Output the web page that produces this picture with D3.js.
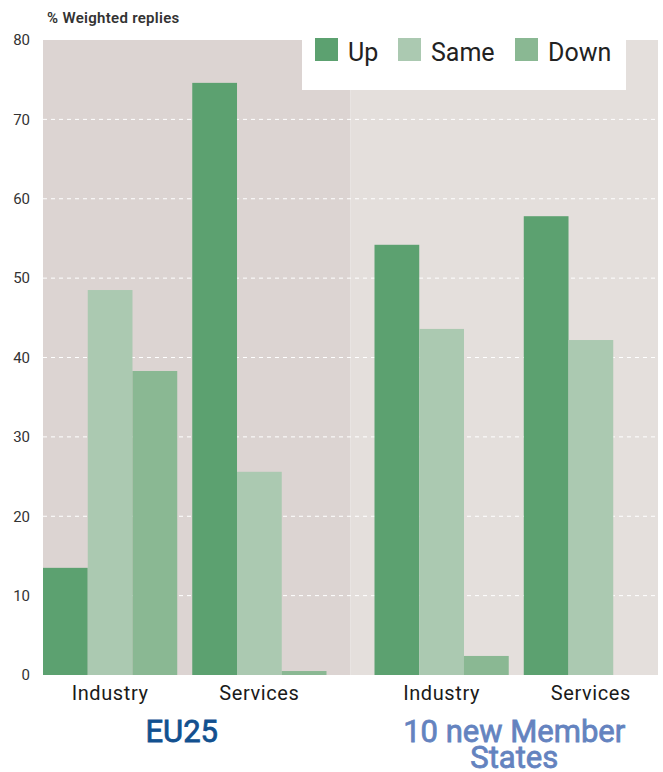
<!DOCTYPE html>
<html>
<head>
<meta charset="utf-8">
<script src="https://cdn.jsdelivr.net/npm/d3@7"></script>
<style>
  body { margin: 0; background: #fff; }
  svg { display: block; font-family: Roboto, "DejaVu Sans", sans-serif; }
</style>
</head>
<body>
<svg id="chart" width="663" height="772"></svg>
<script>
// Expectations by region and sector, % of weighted replies
const regions = ["EU25", "10 new Member States"];
const sectors = ["Industry", "Services"];
const series = ["Up", "Same", "Down"];
const upValues   = [13.5, 74.6, 54.2, 57.8];
const sameValues = [48.5, 25.6, 43.6, 42.2];
const downValues = [38.3, 0.5, 2.4, 0.0];
const yTicks = [0, 10, 20, 30, 40, 50, 60, 70, 80];

const colors = { Up: "#5ca170", Same: "#abc9b1", Down: "#8ab893" };
const panelFill = ["#dcd4d2", "#e4dfdc"];
const regionColor = ["#12508f", "#6483bf"];

// rows: one per region × sector
const rows = [];
regions.forEach((r, ri) => sectors.forEach((s, si) => {
  const k = ri * sectors.length + si;
  rows.push({ region: r, ri, sector: s, Up: upValues[k], Same: sameValues[k], Down: downValues[k] });
}));

const svg = d3.select("#chart");
const plotLeft = 43, plotRight = 658, plotTop = 40, plotBottom = 675;

const y = d3.scaleLinear().domain([0, 80]).range([plotBottom, plotTop]);
const xPanel = d3.scaleBand().domain(regions).range([plotLeft, plotRight]).padding(0);
const inset = 24;
const xSector = ri => d3.scaleBand().domain(sectors)
  .range(ri === 0 ? [0, xPanel.bandwidth() - inset] : [inset, xPanel.bandwidth()])
  .paddingInner(0.1007).paddingOuter(0);
const xSeries = d3.scaleBand().domain(series).range([0, xSector(0).bandwidth()]).padding(0);

// panel backgrounds
svg.append("g").selectAll("rect").data(regions).join("rect")
  .attr("x", d => xPanel(d)).attr("y", y(80))
  .attr("width", xPanel.bandwidth()).attr("height", y(0) - y(80))
  .attr("fill", (d, i) => panelFill[i]);

// dashed gridlines
svg.append("g").selectAll("line").data(yTicks.filter(t => t > 0 && t < 80)).join("line")
  .attr("x1", plotLeft).attr("x2", plotRight)
  .attr("y1", d => y(d)).attr("y2", d => y(d))
  .attr("stroke", "#fff").attr("stroke-width", 1).attr("stroke-dasharray", "4,4");

// bars
const groups = svg.append("g").selectAll("g").data(rows).join("g")
  .attr("transform", d => `translate(${xPanel(d.region) + xSector(d.ri)(d.sector)},0)`);
groups.selectAll("rect").data(d => series.map(k => ({ key: k, value: d[k] }))).join("rect")
  .attr("x", d => xSeries(d.key))
  .attr("y", d => y(d.value))
  .attr("width", xSeries.bandwidth())
  .attr("height", d => y(0) - y(d.value))
  .attr("fill", d => colors[d.key]);

// y axis labels
const yAxis = d3.axisLeft(y).tickValues(yTicks).tickSize(0).tickPadding(13);
const yg = svg.append("g").attr("transform", `translate(${plotLeft},0)`).call(yAxis);
yg.select(".domain").remove();
yg.selectAll("text").attr("font-size", 15).attr("fill", "#333")
  .style("font-family", "Roboto, sans-serif");

svg.append("text").attr("x", 47).attr("y", 23)
  .attr("font-size", 15).attr("font-weight", 600).attr("letter-spacing", 0.3).attr("fill", "#333")
  .text("% Weighted replies");

// sector labels
svg.append("g").selectAll("text").data(rows).join("text")
  .attr("x", d => xPanel(d.region) + xSector(d.ri)(d.sector) + xSector(d.ri).bandwidth() / 2)
  .attr("y", 700).attr("text-anchor", "middle")
  .attr("font-size", 20).attr("letter-spacing", 0.6).attr("fill", "#1a1a1a")
  .text(d => d.sector);

// region labels (medium weight via a thin outline)
const regionOffset = [-15, 10];
const regionLines = [["EU25"], ["10 new Member", "States"]];
regions.forEach((r, i) => {
  const cx = xPanel(r) + xPanel.bandwidth() / 2 + regionOffset[i];
  const t = svg.append("text")
    .attr("x", cx).attr("y", 742).attr("text-anchor", "middle")
    .attr("font-size", 31).attr("fill", regionColor[i])
    .attr("stroke", regionColor[i]).attr("stroke-width", 0.8);
  regionLines[i].forEach((line, li) => {
    t.append("tspan").attr("x", cx).attr("dy", li === 0 ? 0 : 26).text(line);
  });
});

// legend
const legend = svg.append("g");
legend.append("rect").attr("x", 302).attr("y", 30).attr("width", 324).attr("height", 60).attr("fill", "#fff");
const legendX = [315, 398, 515];
series.forEach((s, i) => {
  legend.append("rect").attr("x", legendX[i]).attr("y", 38).attr("width", 23).attr("height", 23).attr("fill", colors[s]);
  legend.append("text").attr("x", legendX[i] + 33).attr("y", 61)
    .attr("font-size", 25).attr("fill", "#222").text(s);
});
</script>
</body>
</html>
